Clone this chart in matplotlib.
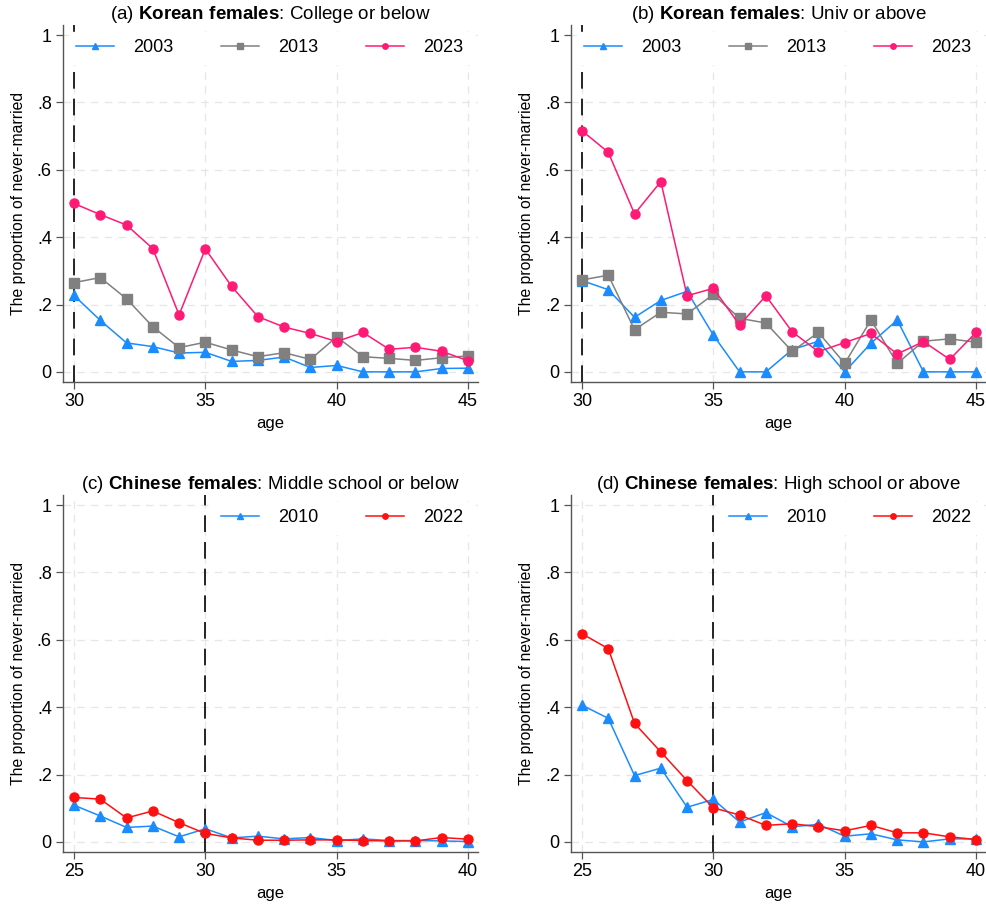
import numpy as np
import matplotlib
matplotlib.use("Agg")
import matplotlib.pyplot as plt

plt.rcParams['font.family'] = ['Liberation Sans', 'DejaVu Sans']
plt.rcParams['mathtext.fontset'] = 'custom'
plt.rcParams['mathtext.rm'] = 'Liberation Sans'
plt.rcParams['mathtext.bf'] = 'Liberation Sans:bold'

### Data
age_kr = np.arange(30, 46)
kr_low_2003 = [0.227, 0.153, 0.086, 0.075, 0.056, 0.058, 0.031, 0.034, 0.044, 0.013, 0.019, 0.0, 0.0, 0.0, 0.010, 0.011]
kr_low_2013 = [0.265, 0.280, 0.217, 0.134, 0.072, 0.088, 0.065, 0.045, 0.057, 0.037, 0.104, 0.045, 0.040, 0.034, 0.042, 0.047]
kr_low_2023 = [0.500, 0.467, 0.436, 0.366, 0.169, 0.365, 0.254, 0.164, 0.133, 0.114, 0.090, 0.117, 0.067, 0.073, 0.061, 0.033]

kr_high_2003 = [0.271, 0.244, 0.162, 0.212, 0.239, 0.109, 0.0, 0.0, 0.066, 0.091, 0.0, 0.085, 0.154, 0.0, 0.0, 0.0]
kr_high_2013 = [0.273, 0.287, 0.125, 0.177, 0.172, 0.230, 0.159, 0.145, 0.061, 0.117, 0.025, 0.154, 0.025, 0.091, 0.098, 0.088]
kr_high_2023 = [0.716, 0.652, 0.469, 0.565, 0.226, 0.248, 0.139, 0.226, 0.119, 0.060, 0.087, 0.114, 0.053, 0.090, 0.037, 0.117]

age_cn = np.arange(25, 41)
cn_low_2010 = [0.109, 0.077, 0.043, 0.047, 0.015, 0.039, 0.012, 0.017, 0.009, 0.013, 0.004, 0.009, 0.004, 0.004, 0.003, 0.001]
cn_low_2022 = [0.132, 0.127, 0.071, 0.092, 0.057, 0.025, 0.012, 0.005, 0.005, 0.006, 0.006, 0.004, 0.003, 0.003, 0.013, 0.008]
cn_high_2010 = [0.406, 0.367, 0.197, 0.219, 0.103, 0.126, 0.059, 0.087, 0.045, 0.052, 0.017, 0.024, 0.006, 0.000, 0.009, 0.009]
cn_high_2022 = [0.618, 0.574, 0.352, 0.267, 0.182, 0.101, 0.080, 0.049, 0.054, 0.045, 0.033, 0.049, 0.027, 0.027, 0.015, 0.007]

y_ticks = [0, 0.2, 0.4, 0.6, 0.8, 1.0]
y_ticklabels = ["0", ".2", ".4", ".6", ".8", "1"]

BLUE = "#1a8cff"
GRAY = "#808080"
PINK = "#ff1a75"
RED = "#ff1010"

### Set up one panel in the Stata look
def style_axis(ax, xmin, xmax, title):
    ax.set_xlim(xmin - 0.42, xmax + 0.38)
    ax.set_ylim(-0.03, 1.03)
    ax.set_xticks(np.arange(xmin, xmax + 1, 5))
    ax.set_yticks(y_ticks)
    ax.set_yticklabels(y_ticklabels)
    ax.grid(True, color="#e6e6e6", linestyle=(0, (6, 5)), linewidth=0.9)
    ax.set_axisbelow(True)
    for side in ["top", "right"]:
        ax.spines[side].set_visible(False)
    for side in ["left", "bottom"]:
        ax.spines[side].set_color("#555555")
        ax.spines[side].set_linewidth(1.0)
    ax.tick_params(direction="out", length=5, width=0.9, color="#555555",
                   labelsize=13, pad=3)
    ax.set_xlabel("age", fontsize=12, labelpad=4)
    ax.set_ylabel("The proportion of never-married", fontsize=11.3, labelpad=8)
    ax.set_title(title, fontsize=13.5, pad=4)
    ax.axvline(30, color="black", linestyle=(0, (10, 6)), linewidth=1.2, zorder=2)

def plot_series(ax, x, y, color, marker, label):
    ax.plot(x, y, color=color, marker=marker, markersize=6.5, linewidth=1.1,
            label=label, zorder=3)

def add_legend(ax, ncol):
    leg = ax.legend(loc="upper right", bbox_to_anchor=(1.0, 1.0), ncol=ncol,
                    frameon=True, fontsize=13, markerscale=0.6,
                    handlelength=2.1, handletextpad=1.1, columnspacing=2.6,
                    borderaxespad=0.4, borderpad=0.4)
    leg.get_frame().set_facecolor("white")
    leg.get_frame().set_edgecolor("white")
    leg.get_frame().set_alpha(1.0)
    leg.set_zorder(5)

fig = plt.figure(figsize=(9.87, 9.09), dpi=100)

w = 0.4205
h = 0.3927
ax_a = fig.add_axes([0.0638, 0.5798, w, h])
ax_b = fig.add_axes([0.5785, 0.5798, w, h])
ax_c = fig.add_axes([0.0638, 0.0627, w, h])
ax_d = fig.add_axes([0.5785, 0.0627, w, h])

style_axis(ax_a, 30, 45, r"(a) $\mathbf{Korean\ females}$: College or below")
plot_series(ax_a, age_kr, kr_low_2003, BLUE, "^", "2003")
plot_series(ax_a, age_kr, kr_low_2013, GRAY, "s", "2013")
plot_series(ax_a, age_kr, kr_low_2023, PINK, "o", "2023")
add_legend(ax_a, 3)

style_axis(ax_b, 30, 45, r"(b) $\mathbf{Korean\ females}$: Univ or above")
plot_series(ax_b, age_kr, kr_high_2003, BLUE, "^", "2003")
plot_series(ax_b, age_kr, kr_high_2013, GRAY, "s", "2013")
plot_series(ax_b, age_kr, kr_high_2023, PINK, "o", "2023")
add_legend(ax_b, 3)

style_axis(ax_c, 25, 40, r"(c) $\mathbf{Chinese\ females}$: Middle school or below")
plot_series(ax_c, age_cn, cn_low_2010, BLUE, "^", "2010")
plot_series(ax_c, age_cn, cn_low_2022, RED, "o", "2022")
add_legend(ax_c, 2)

style_axis(ax_d, 25, 40, r"(d) $\mathbf{Chinese\ females}$: High school or above")
plot_series(ax_d, age_cn, cn_high_2010, BLUE, "^", "2010")
plot_series(ax_d, age_cn, cn_high_2022, RED, "o", "2022")
add_legend(ax_d, 2)

plt.savefig("out.png", dpi=100)
